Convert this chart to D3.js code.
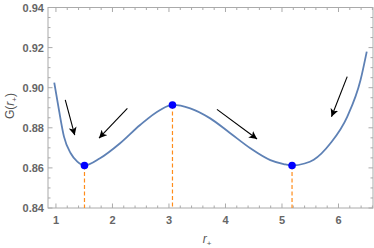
<!DOCTYPE html>
<html>
<head>
<meta charset="utf-8">
<script src="https://cdn.jsdelivr.net/npm/d3@7"></script>
<style>
  body { margin: 0; background: #fff; }
  svg { display: block; }
  .tick-label { font-family: "Liberation Sans", Arial, sans-serif; font-size: 11px; font-weight: bold; fill: #666; }
  .title { font-family: "Liberation Sans", Arial, sans-serif; font-size: 12px; fill: #555; }
  .frame { fill: none; stroke: #aaa; stroke-width: 1; }
  .tk { stroke: #aaa; stroke-width: 1; }
  .curve { fill: none; stroke: #5e81b5; stroke-width: 1.8; }
  .guide { stroke: #ff8c1a; stroke-width: 1.2; stroke-dasharray: 4,2.5; }
  .crit { fill: #0000ff; }
  .arrow { stroke: #000; stroke-width: 1.1; }
</style>
</head>
<body>
<div id="chart"></div>
<script>
// curve G(r+)
var rVals = [0.97, 1.053, 1.142, 1.261, 1.378, 1.505, 1.780, 2.135, 2.489, 2.844, 3.062, 3.376, 3.730, 4.085, 4.440, 4.794, 5.030, 5.178, 5.400, 5.562, 5.858, 6.154, 6.390, 6.50];
var gVals = [0.9025, 0.8889, 0.8756, 0.8673, 0.8631, 0.8612, 0.8648, 0.8723, 0.8814, 0.8889, 0.8914, 0.8897, 0.8847, 0.8773, 0.8698, 0.8639, 0.8619, 0.8612, 0.8622, 0.8641, 0.8723, 0.8855, 0.9038, 0.9180];

// extrema (blue dots)
var critR = [1.505, 3.062, 5.178];
var critG = [0.8612, 0.8914, 0.8612];

// arrows: [r0, g0, r1, g1]
var arrows = [
  [1.165, 0.8939, 1.332, 0.8763],
  [2.264, 0.8897, 1.762, 0.8748],
  [3.849, 0.8892, 4.559, 0.8744],
  [6.154, 0.9055, 5.876, 0.8855]
];

var xTicks = [1, 2, 3, 4, 5, 6];
var yTicks = [0.84, 0.86, 0.88, 0.90, 0.92, 0.94];

var W = 374, H = 248;
var pL = 48, pR = 373, pT = 7.5, pB = 208;

var x = d3.scaleLinear().domain([0.8594, 6.6106]).range([pL, pR]);
var y = d3.scaleLinear().domain([0.84, 0.94]).range([pB, pT]);

var svg = d3.select("#chart").append("svg")
    .attr("width", W).attr("height", H);

var defs = svg.append("defs");
defs.append("marker")
    .attr("id", "head")
    .attr("viewBox", "0 0 10 10")
    .attr("refX", 10).attr("refY", 5)
    .attr("markerWidth", 8).attr("markerHeight", 8)
    .attr("markerUnits", "userSpaceOnUse")
    .attr("orient", "auto")
  .append("path")
    .attr("d", "M0,0 L10,5 L0,10 L2.5,5 Z")
    .attr("fill", "#000");

// frame
svg.append("rect").attr("class", "frame")
    .attr("x", pL).attr("y", pT)
    .attr("width", pR - pL).attr("height", pB - pT);

// x ticks (major + minor), bottom and top
var xMinor = d3.range(1, 6.61, 0.2).map(function(v) { return +v.toFixed(2); });
xMinor.forEach(function(v) {
  var major = Math.abs(v - Math.round(v)) < 1e-6;
  var len = major ? 4.5 : 2.5;
  svg.append("line").attr("class", "tk")
      .attr("x1", x(v)).attr("x2", x(v)).attr("y1", pB).attr("y2", pB - len);
  svg.append("line").attr("class", "tk")
      .attr("x1", x(v)).attr("x2", x(v)).attr("y1", pT).attr("y2", pT + len);
});
var yMinor = d3.range(0.84, 0.9401, 0.005).map(function(v) { return +v.toFixed(3); });
yMinor.forEach(function(v) {
  var major = Math.abs(v * 50 - Math.round(v * 50)) < 1e-6;
  var len = major ? 4.5 : 2.5;
  svg.append("line").attr("class", "tk")
      .attr("y1", y(v)).attr("y2", y(v)).attr("x1", pL).attr("x2", pL + len);
  svg.append("line").attr("class", "tk")
      .attr("y1", y(v)).attr("y2", y(v)).attr("x1", pR).attr("x2", pR - len);
});

svg.selectAll(".xl").data(xTicks).enter().append("text")
    .attr("class", "tick-label")
    .attr("x", function(d) { return x(d); })
    .attr("y", 224)
    .attr("text-anchor", "middle")
    .text(function(d) { return d; });

svg.selectAll(".yl").data(yTicks).enter().append("text")
    .attr("class", "tick-label")
    .attr("x", 44)
    .attr("y", function(d) { return y(d) + 4; })
    .attr("text-anchor", "end")
    .text(function(d) { return d.toFixed(2); });

// axis titles
var xt = svg.append("text").attr("class", "title")
    .attr("x", 207).attr("y", 243).attr("text-anchor", "middle");
xt.append("tspan").style("font-style", "italic").text("r");
xt.append("tspan").attr("dy", 3).style("font-size", "8px").text("+");

var yt = svg.append("text").attr("class", "title")
    .attr("transform", "translate(14,106) rotate(-90)")
    .attr("text-anchor", "middle");
yt.append("tspan").text("G(");
yt.append("tspan").style("font-style", "italic").text("r");
yt.append("tspan").attr("dy", 3).style("font-size", "8px").text("+");
yt.append("tspan").attr("dy", -3).text(")");

// dashed guides
svg.selectAll(".guide").data(critR).enter().append("line")
    .attr("class", "guide")
    .attr("x1", function(d) { return x(d); })
    .attr("x2", function(d) { return x(d); })
    .attr("y1", function(d, i) { return y(critG[i]); })
    .attr("y2", pB);

// curve
var pts = rVals.map(function(r, i) { return [r, gVals[i]]; });
var line = d3.line()
    .curve(d3.curveMonotoneX)
    .x(function(d) { return x(d[0]); })
    .y(function(d) { return y(d[1]); });
svg.append("path").datum(pts).attr("class", "curve").attr("d", line);

// dots
svg.selectAll(".crit").data(critR).enter().append("circle")
    .attr("class", "crit")
    .attr("cx", function(d) { return x(d); })
    .attr("cy", function(d, i) { return y(critG[i]); })
    .attr("r", 3.8);

// arrows
svg.selectAll(".arrow").data(arrows).enter().append("line")
    .attr("class", "arrow")
    .attr("x1", function(d) { return x(d[0]); })
    .attr("y1", function(d) { return y(d[1]); })
    .attr("x2", function(d) { return x(d[2]); })
    .attr("y2", function(d) { return y(d[3]); })
    .attr("marker-end", "url(#head)");
</script>
</body>
</html>
